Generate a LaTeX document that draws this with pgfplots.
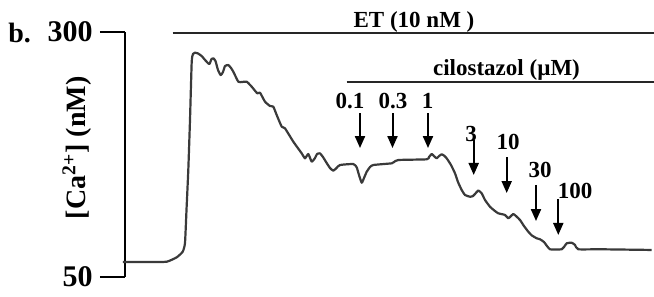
\documentclass[border=0pt]{standalone}
\usepackage{fontspec}
\setmainfont{Liberation Serif}
\usepackage{pgfplots}
\pgfplotsset{compat=1.18}
\usetikzlibrary{arrows.meta}
\definecolor{trace}{HTML}{3A3A3A}
\begin{document}
\begin{tikzpicture}
\useasboundingbox (0pt,0pt) rectangle (327pt,148pt);
\begin{axis}[
  at={(62.5pt,9.5pt)}, anchor=south west,
  scale only axis, width=264.5pt, height=122.5pt,
  xmin=125, xmax=654, ymin=50, ymax=300,
  axis x line=none, axis y line*=left,
  ytick={50,300}, tick align=outside, major tick length=12.5pt,
  y axis line style={line width=1pt, black},
  every tick/.style={black, line width=1pt},
  /pgf/number format/assume math mode=true,
  yticklabel style={font=\fontsize{15}{16}\selectfont\bfseries, inner sep=3.5pt},
  ylabel={[Ca\textsuperscript{2+}] (nM)},
  ylabel style={font=\fontsize{14}{15}\selectfont\bfseries, at={(axis description cs:-0.0907,0.527)}, anchor=center},
  clip=false,
]
\addplot[trace, line width=1.1pt, line join=round, smooth, tension=0.3] coordinates {
(123,65.3) (150,65.3) (166.7,65.6) (176.7,70.1) (182.7,75.8) (185,84.7)
(186.5,118.4) (188.3,159.2) (190,210.2) (191.7,269.4) (193,277.6) (195,278.9)
(198,278.1) (201.7,275.5) (205,271.5) (209.3,267.3) (211.5,272.4) (213.3,273.2)
(215.5,270.4) (218,261.2) (220.7,256.1) (223,259.2) (225,265.3) (228.3,266.3)
(231,263.3) (233.3,259.5) (238.3,249.3) (242,249) (246.7,249.3) (251.7,244.2)
(257.3,237.4) (260,238.1) (265,228.9) (270,224.5) (273.3,223.8) (276.7,215.3)
(281.7,203.4) (285,201.7) (293.3,188.1) (301.7,176.2) (305,171.1) (308.3,175.5)
(311.7,167.7) (315,171.4) (317,175.5) (320,176.2) (323,172.4) (326.7,166.3)
(330,161.2) (333.3,158.5) (336.5,161.2) (340,164.3) (353.3,165.3) (356.7,161.9)
(359,154.1) (361.7,146.2) (364,151) (366.7,157.4) (370,162.2) (373.3,164.3)
(391.7,166) (394,167.3) (398.3,169.4) (426.7,170.1) (429,172.4) (431.7,175.5)
(434,173.4) (436.7,171.1) (439,173.4) (441.7,175.2) (444,174) (446.7,171.1)
(451,164.3) (455,155.8) (458,146.9) (461.7,138.8) (465,133.7) (470,131.9)
(473,132.6) (475,134.7) (478.3,138.3) (481.7,135.4) (485,128.6) (490,121.7)
(495,117.3) (498.3,115) (505,113.3) (508.3,109.9) (511,112.2) (513.3,114.3)
(516,112.2) (520,108.2) (524,102) (528.3,96.2) (532,92.3) (536.7,89.5)
(540,88.5) (544,85.7) (550,78.3) (561.7,78.3) (564,80.6) (566.7,84.4)
(571.7,85) (575,82.7) (578.3,78.3) (600,78.3) (651.7,77.6)
};
% treatment bars
\draw[black!85, line width=1pt] (axis cs:172.7,299) -- (axis cs:654,299);
\draw[black!85, line width=1pt] (axis cs:346.7,249.3) -- (axis cs:654,249.3);
\node[anchor=base, font=\fontsize{11.5}{13}\selectfont\bfseries] at (axis cs:414,304.8) {ET (10 nM )};
\node[anchor=base, font=\fontsize{11.5}{13}\selectfont\bfseries] at (axis cs:506.5,256.1) {cilostazol (µM)};
% arrows
\foreach \xa/\ya/\yb in {360/217.3/181.6, 392.5/217.3/181.6, 428/217.3/181.6, 473.7/189.8/154.1, 506.7/172.4/135.7, 536/143.9/107.1, 558.3/129.6/92.9}{
  \edef\tmp{\noexpand\draw[black, line width=1pt, -{Triangle[length=6pt,width=5pt]}] (axis cs:\xa,\ya) -- (axis cs:\xa,\yb);}
  \tmp
}
\foreach \xl/\yl/\txt in {350/222.1/0.1, 393/222.1/0.3, 427.5/222.1/1, 471/188/3, 508/179.6/10, 540/152/30, 575/130.6/100}{
  \edef\tmp{\noexpand\node[anchor=base, inner sep=0pt, font=\noexpand\fontsize{11.5}{12}\noexpand\selectfont\noexpand\bfseries] at (axis cs:\xl,\yl) {\txt};}
  \tmp
}
\node[anchor=base west, inner sep=0pt, font=\fontsize{14}{15}\selectfont\bfseries] at (axis description cs:-0.2212,0.956) {b.};
\end{axis}
\end{tikzpicture}
\end{document}
